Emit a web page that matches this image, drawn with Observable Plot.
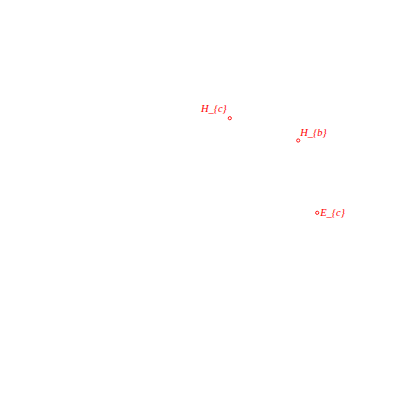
<!DOCTYPE html>
<html>
<head>
<meta charset="utf-8">
<script src="https://cdn.jsdelivr.net/npm/d3@7"></script>
<script src="https://cdn.jsdelivr.net/npm/@observablehq/plot@0.6"></script>
<style>
  html, body { margin: 0; padding: 0; background: #fff; }
</style>
</head>
<body>
<div id="chart"></div>
<script>
const labels = ["H_{c}", "H_{b}", "E_{c}"];
const xs = [229.3, 297.7, 316.7];
const ys = [117.7, 140.0, 212.3];
const anchors = ["end", "start", "start"];
const dxs = [-3, 2, 3];
const dys = [-9.5, -8, 0];

const data = labels.map((label, i) => ({label, x: xs[i], y: ys[i], anchor: anchors[i], dx: dxs[i], dy: dys[i]}));

const textMarks = data.map(d => Plot.text([d], {
  x: "x", y: "y", text: "label",
  textAnchor: d.anchor, dx: d.dx, dy: d.dy,
  fill: "red", fontSize: 10.5, fontStyle: "italic",
  fontFamily: "Liberation Serif"
}));

const chart = Plot.plot({
  width: 400, height: 400,
  margin: 0,
  x: {domain: [0, 400], axis: null},
  y: {domain: [400, 0], axis: null},
  marks: [
    Plot.dot(data, {x: "x", y: "y", r: 1.6, stroke: "red", strokeWidth: 0.9, fill: "none"}),
    ...textMarks
  ]
});
document.getElementById("chart").appendChild(chart);
</script>
</body>
</html>
